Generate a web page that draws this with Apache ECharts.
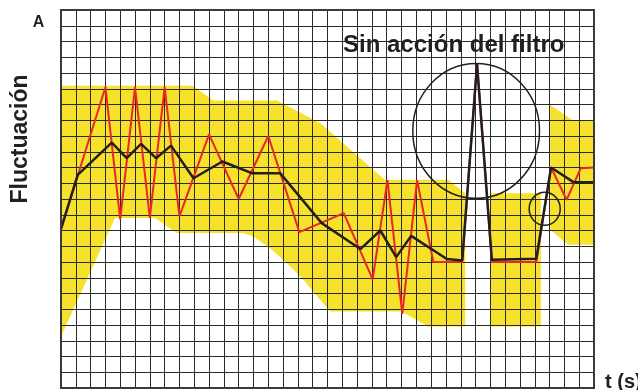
<!DOCTYPE html>
<html>
<head>
<meta charset="utf-8">
<title>Fluctuación</title>
<script src="https://cdn.jsdelivr.net/npm/echarts@6/dist/echarts.min.js"></script>
<style>
  html, body { margin: 0; padding: 0; background: #fff; }
  #chart { width: 638px; height: 390px; }
</style>
</head>
<body>
<div id="chart"></div>
<script>
// grid cells: 36 columns x 24 rows
const xMax = 36
const yMax = 24

// red line (raw signal)
const redX = [0, 3, 4, 5, 6, 7, 8, 10, 12, 14, 16.1, 19.1, 21.05, 22.05, 23.05, 24.05, 25.15, 27.1, 28.1, 29.1, 32.1, 33.1, 34.15, 35.1, 36]
const redY = [10.1, 19.1, 10.7, 19.1, 10.8, 19.1, 10.9, 16.1, 12, 16, 9.9, 11.1, 6.9, 13.2, 4.7, 13.2, 8, 8, 20.6, 8, 8, 14, 11.95, 13.95, 14]

// black line (filtered)
const blackX = [0, 1.13, 3.43, 4.44, 5.41, 6.42, 7.43, 8.95, 10.9, 12.89, 14.8, 17.61, 20.22, 21.57, 22.64, 23.65, 26.06, 27.1, 28.1, 29.1, 32.1, 33.1, 34.61, 36]
const blackY = [10.1, 13.53, 15.58, 14.59, 15.5, 14.59, 15.39, 13.32, 14.38, 13.64, 13.64, 10.47, 8.82, 10.0, 8.31, 9.66, 8.19, 8.1, 20.56, 8.14, 8.2, 14.0, 13.07, 13.07]

// yellow tolerance band, three pieces
const band1Top = [[0, 19.19], [8.92, 19.19], [10.27, 18.25], [14.59, 18.25], [17.5, 16.83], [21.87, 13.22], [26.15, 13.22], [27.3, 12.37]]
const band1Bottom = [[0, 3.27], [3.65, 10.79], [6.35, 10.79], [7.82, 9.84], [12.3, 9.84], [12.99, 9.62], [14.12, 8.88], [15.25, 7.93], [16.37, 6.87], [17.5, 5.6], [18.18, 4.86], [22.99, 4.86], [24.8, 3.91], [27.3, 3.91]]
const band2Top = [[28.99, 12.37], [32.41, 12.37]]
const band2Bottom = [[28.99, 3.91], [32.41, 3.91]]
const band3Top = [[33.04, 17.97], [34.59, 16.98], [36, 16.98]]
const band3Bottom = [[33.04, 10.04], [34.26, 9.09], [36, 9.09]]

// circles: centre x, centre y, radius (grid units)
const circles = [[28.04, 16.32, 4.28], [32.67, 11.38, 1.05]]

const bandShapes = [[band1Top, band1Bottom], [band2Top, band2Bottom], [band3Top, band3Bottom]]
const zip = (xs, ys) => xs.map((x, i) => [x, ys[i]])

const chart = echarts.init(document.getElementById('chart'))

const textStyle = (text, size) => ({
	text,
	fill: '#231f20',
	font: `bold ${size}px "Liberation Sans", Arial, sans-serif`,
	align: 'center',
	verticalAlign: 'middle'
})

chart.setOption({
	animation: false,
	backgroundColor: '#fff',
	grid: {
		left: 61,
		right: 44,
		top: 10,
		bottom: 2,
		show: true,
		z: 8,
		backgroundColor: 'transparent',
		borderColor: '#3a3a3a',
		borderWidth: 2
	},
	xAxis: {
		type: 'value',
		min: 0,
		max: xMax,
		interval: 1,
		z: 3,
		axisLine: { show: false },
		axisTick: { show: false },
		axisLabel: { show: false },
		splitLine: { show: true, lineStyle: { color: '#2a2a2a', width: 1 } }
	},
	yAxis: {
		type: 'value',
		min: 0,
		max: yMax,
		interval: 1,
		z: 3,
		axisLine: { show: false },
		axisTick: { show: false },
		axisLabel: { show: false },
		splitLine: { show: true, lineStyle: { color: '#2a2a2a', width: 1 } }
	},
	graphic: [
		{ type: 'text', x: 38.5, y: 22.4, z: 20, style: textStyle('A', 16) },
		{ type: 'text', x: 20.2, y: 139, rotation: Math.PI / 2, z: 20, style: textStyle('Fluctuación', 23) },
		{ type: 'text', x: 453.7, y: 44.9, z: 20, style: textStyle('Sin acción del filtro', 24) },
		{ type: 'text', x: 605, y: 382, z: 20, style: { ...textStyle('t (s)', 20), align: 'left' } }
	],
	series: [
		{
			type: 'custom',
			z: 1,
			silent: true,
			data: bandShapes.map((b, i) => [b[0][0][0], b[0][0][1], i]),
			renderItem: (params, api) => {
				const [top, bottom] = bandShapes[params.dataIndex]
				const pts = top.concat(bottom.slice().reverse()).map(p => api.coord(p))
				return { type: 'polygon', shape: { points: pts }, style: { fill: '#f6e22b' } }
			}
		},
		{
			type: 'line',
			z: 5,
			symbol: 'none',
			data: zip(redX, redY),
			lineStyle: { color: '#e8262b', width: 2 }
		},
		{
			type: 'line',
			z: 6,
			symbol: 'none',
			data: zip(blackX, blackY),
			lineStyle: { color: '#231f20', width: 2.5 }
		},
		{
			type: 'custom',
			z: 7,
			silent: true,
			data: circles,
			renderItem: (params, api) => {
				const c = api.coord([api.value(0), api.value(1)])
				const s = api.size([api.value(2), api.value(2)])
				return {
					type: 'circle',
					x: c[0],
					y: c[1],
					scaleY: s[1] / s[0],
					shape: { cx: 0, cy: 0, r: s[0] },
					style: { fill: 'none', stroke: '#231f20', lineWidth: 1.5 }
				}
			}
		}
	]
})
</script>
</body>
</html>
